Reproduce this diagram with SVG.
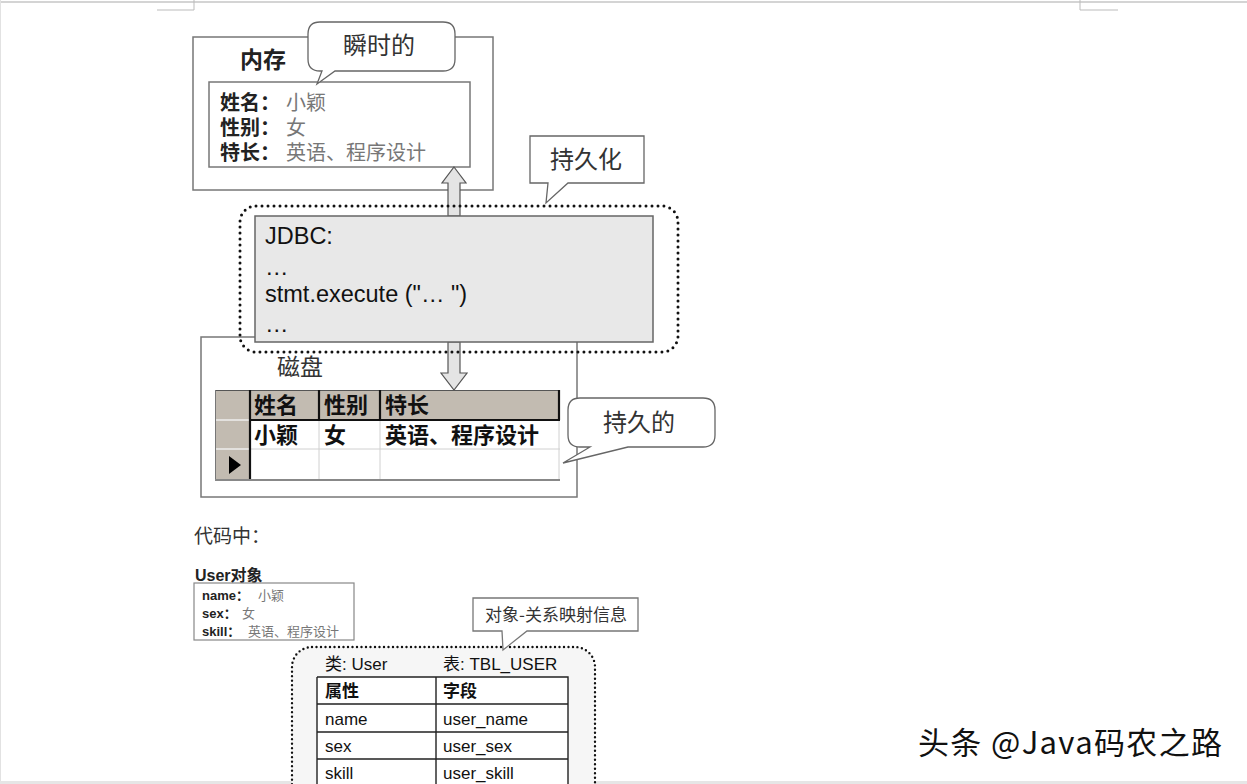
<svg xmlns="http://www.w3.org/2000/svg" width="1247" height="784" viewBox="0 0 1247 784">
<style>
.cjk{font-family:"Noto Sans CJK SC","Liberation Sans",sans-serif;}
.lat{font-family:"Liberation Sans","Noto Sans CJK SC",sans-serif;}
.box{fill:#fff;stroke:#777;stroke-width:1.5;}
.bub{fill:#fff;stroke:#666;stroke-width:1.3;}
.dot{fill:none;stroke:#111;stroke-width:3;stroke-dasharray:0 6;stroke-linecap:round;}
.arrow{fill:#e4e4e4;stroke:#555;stroke-width:1.2;}
.b{font-weight:bold;}
.t{fill:#222;}
.g{fill:#777;}
.hdr{fill:#c2bbb1;}
.grid{stroke:#d0d0d0;stroke-width:1;}
.thick{stroke:#111;stroke-width:2.2;}
.tl{stroke:#222;stroke-width:1.4;fill:none;}
</style>
<rect width="1247" height="784" fill="#fff"/>
<g id="page">
<line x1="0" y1="2" x2="1247" y2="2" stroke="#d4d4d4" stroke-width="2"/>
<line x1="0.5" y1="0" x2="0.5" y2="784" stroke="#e2e2e2" stroke-width="1"/>
<rect x="0" y="781" width="1247" height="3" fill="#e6e6e6"/>
<path d="M194 0 V10 H157" fill="none" stroke="#bbb" stroke-width="1"/>
<path d="M1080 0 V10 H1118" fill="none" stroke="#bbb" stroke-width="1"/>
</g>

<g id="memory">
<rect class="box" x="193" y="37" width="300" height="153"/>
<text class="cjk b t" x="240" y="68" font-size="23">内存</text>
<rect class="box" x="209" y="82" width="261" height="85"/>
<g class="lat" font-size="20">
<text class="b t" x="220" y="110">姓名：</text><text class="g" x="286" y="110">小颖</text>
<text class="b t" x="220" y="135">性别：</text><text class="g" x="286" y="135">女</text>
<text class="b t" x="220" y="160">特长：</text><text class="g" x="286" y="160">英语、程序设计</text>
</g>
</g>

<g id="bubble-transient">
<path class="bub" d="M320 22 H443 Q455 22 455 34 V59 Q455 71 443 71 H335 L317 84 L322 71 H320 Q308 71 308 59 V34 Q308 22 320 22 Z"/>
<text class="cjk" x="343" y="54" font-size="24" fill="#333">瞬时的</text>
</g>

<g id="disk">
<rect class="box" x="201" y="337" width="376" height="160"/>
<text class="cjk" x="277" y="375" font-size="23" fill="#333">磁盘</text>
<g id="disk-table">
<rect x="215" y="390" width="345" height="90" fill="#fff"/>
<rect class="hdr" x="215" y="390" width="345" height="30"/>
<rect class="hdr" x="215" y="390" width="35" height="90"/>
<line x1="216" y1="420" x2="249" y2="420" stroke="#eee" stroke-width="1.5"/>
<line x1="216" y1="449" x2="249" y2="449" stroke="#eee" stroke-width="1.5"/>
<line class="grid" x1="250" y1="449" x2="560" y2="449"/>
<line class="grid" x1="319" y1="420" x2="319" y2="480"/>
<line class="grid" x1="380" y1="420" x2="380" y2="480"/>
<line class="grid" x1="559" y1="420" x2="559" y2="480"/>
<line x1="215" y1="390.5" x2="560" y2="390.5" stroke="#555" stroke-width="1.2"/>
<line x1="215.5" y1="390" x2="215.5" y2="480" stroke="#777" stroke-width="1"/>
<line class="thick" x1="250" y1="420" x2="560" y2="420"/>
<line class="thick" x1="250" y1="390" x2="250" y2="480"/>
<line class="thick" x1="319" y1="390" x2="319" y2="420"/>
<line class="thick" x1="380" y1="390" x2="380" y2="420"/>
<line class="thick" x1="559" y1="390" x2="559" y2="420"/>
<line x1="215" y1="480" x2="560" y2="480" stroke="#888" stroke-width="2"/>
<path d="M229 456 L241 465 L229 474 Z" fill="#000"/>
<g class="cjk b" font-size="22" fill="#111">
<text x="254" y="413">姓名</text><text x="324" y="413">性别</text><text x="385" y="413">特长</text>
<text x="254" y="443">小颖</text><text x="324" y="443">女</text><text x="385" y="443">英语、程序设计</text>
</g>
</g>
</g>

<g id="bubble-persistent">
<path class="bub" d="M580 398 H703 Q715 398 715 410 V435 Q715 447 703 447 H628 L563 463 L590 447 H580 Q568 447 568 435 V410 Q568 398 580 398 Z"/>
<text class="cjk" x="603" y="431" font-size="24" fill="#333">持久的</text>
</g>

<g id="connectors">
<polygon class="arrow" points="454,167 466,183 460,183 460,216 448,216 448,183 442,183"/>
<polygon class="arrow" points="448,342 460,342 460,373 467,373 454,390 441,373 448,373"/>
</g>

<g id="jdbc">
<rect x="255" y="216" width="398" height="126" fill="#e8e8e8" stroke="#666" stroke-width="1.5"/>
<rect class="dot" x="240" y="206" width="438" height="146" rx="16"/>
<g class="lat" font-size="23.5" fill="#111">
<text x="265" y="244">JDBC:</text>
<text x="265" y="275">…</text>
<text x="265" y="302">stmt.execute ("… ")</text>
<text x="265" y="332">…</text>
</g>
</g>

<g id="callout-persistence">
<path class="bub" d="M530 136 H644 V183 H568 L546 203 L548 183 H530 Z"/>
<text class="cjk" x="550" y="168" font-size="24" fill="#333">持久化</text>
</g>

<g id="code-label">
<text class="cjk" x="194" y="543" font-size="19" fill="#333">代码中：</text>
</g>

<g id="user-object">
<text class="lat b" x="195" y="581" font-size="16" fill="#222">User对象</text>
<rect x="194" y="583" width="160" height="57" fill="#fff" stroke="#888" stroke-width="1.2"/>
<g class="lat" font-size="13">
<text class="b t" x="202" y="600">name：</text><text class="g" x="258" y="600">小颖</text>
<text class="b t" x="202" y="618">sex：</text><text class="g" x="242" y="618">女</text>
<text class="b t" x="202" y="636">skill：</text><text class="g" x="248" y="636">英语、程序设计</text>
</g>
</g>

<g id="orm-mapping">
<rect x="292" y="647" width="303" height="160" rx="20" fill="#f6f6f6"/>
<rect class="dot" x="292" y="647" width="303" height="160" rx="20" style="stroke-width:2.4;stroke-dasharray:0 4.5"/>
<g class="lat" font-size="17" fill="#111">
<text x="325" y="670">类: User</text>
<text x="443" y="670">表: TBL_USER</text>
</g>
<rect x="317" y="677" width="251" height="110" fill="#fff"/>
<path class="tl" d="M317 677 H568 V790 M317 677 V790 M436 677 V790 M317 704 H568 M317 732 H568 M317 759 H568"/>
<g class="lat" font-size="17" fill="#111">
<text class="b" x="325" y="697">属性</text>
<text class="b" x="443" y="697">字段</text>
<text x="325" y="725">name</text><text x="443" y="725">user_name</text>
<text x="325" y="752">sex</text><text x="443" y="752">user_sex</text>
<text x="325" y="779">skill</text><text x="443" y="779">user_skill</text>
</g>
</g>

<g id="callout-orm">
<path class="bub" d="M473 598 H638 V631 H527 L503 650 L502 631 H473 Z" style="stroke:#777"/>
<text class="cjk" x="485" y="621" font-size="17" fill="#333">对象-关系映射信息</text>
</g>

<g id="watermark">
<text class="cjk" x="918" y="754" font-size="31" textLength="304" lengthAdjust="spacing" fill="#111" stroke="#fff" stroke-width="3" paint-order="stroke">头条 @Java码农之路</text>
</g>
</svg>
